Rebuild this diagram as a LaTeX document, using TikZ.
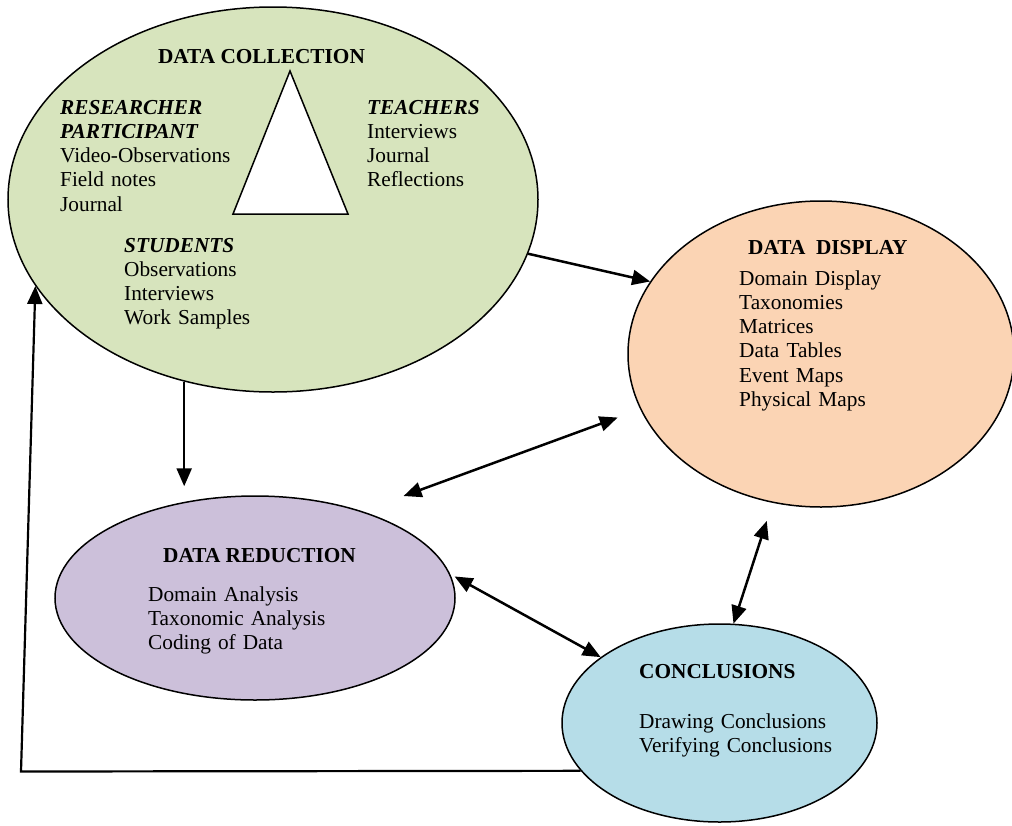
\documentclass[tikz,border=0pt]{standalone}
\usepackage{fontspec}
\setmainfont{Liberation Serif}
\usetikzlibrary{shapes.geometric,arrows.meta}
\definecolor{collectfill}{HTML}{D7E4BD}
\definecolor{displayfill}{HTML}{FBD4B4}
\definecolor{reducefill}{HTML}{CCC0DA}
\definecolor{concludefill}{HTML}{B6DDE8}
\begin{document}
\begin{tikzpicture}[x=1pt, y=-1pt, inner sep=0pt,
    font=\fontsize{21.3pt}{24.3pt}\selectfont,
    phase/.style={ellipse, draw, line width=1.5pt},
    txt/.style={anchor=base west, align=left, text width=300pt},
    head/.style={anchor=base west, font=\fontsize{21.3pt}{24.3pt}\selectfont\bfseries},
    flow/.style={-{Triangle[length=18pt,width=15pt]}, line width=2.5pt},
    both/.style={{Triangle[length=18pt,width=15pt]}-{Triangle[length=18pt,width=15pt]}, line width=2.5pt}]
   \useasboundingbox (0,0) rectangle (1012,825);
   % the four phases
   \node[phase, fill=collectfill, minimum width=530pt, minimum height=385pt] (collect) at (273,199.5) {};
   \node[phase, fill=displayfill, minimum width=386pt, minimum height=306pt] (display) at (821,354) {};
   \node[phase, fill=reducefill, minimum width=400pt, minimum height=204pt] (reduce) at (255,598) {};
   \node[phase, fill=concludefill, minimum width=315pt, minimum height=198pt] (conclude) at (719.5,723) {};
   \draw[line width=1.5pt, fill=white] (290,71) -- (233,214) -- (348,214) -- cycle;
   % data collection
   \node[head, anchor=base] (collecttitle) at (261.5,63) {DATA COLLECTION};
   \node[txt] (researcher) at (60,114) {\textbf{\textit{RESEARCHER}}\\ \textbf{\textit{PARTICIPANT}}\\ Video-Observations\\ Field notes\\ Journal};
   \node[txt] (teachers) at (367,114) {\textbf{\textit{TEACHERS}}\\ Interviews\\ Journal\\ Reflections};
   \node[txt] (students) at (124,252) {\textbf{\textit{STUDENTS}}\\ Observations\\ Interviews\\ Work Samples};
   % data display
   \node[head] (displaytitle) at (748,254) {DATA\ \ DISPLAY};
   \node[txt] (displayitems) at (739,285) {Domain Display\\ Taxonomies\\ Matrices\\ Data Tables\\ Event Maps\\ Physical Maps};
   % data reduction
   \node[head] (reducetitle) at (163,562) {DATA REDUCTION};
   \node[txt] (reduceitems) at (148,601) {Domain Analysis\\ Taxonomic Analysis\\ Coding of Data};
   % conclusions
   \node[head] (concludetitle) at (639,678) {CONCLUSIONS};
   \node[txt] (concludeitems) at (639,728) {Drawing Conclusions\\ Verifying Conclusions};
   % connectors
   \coordinate (loopcorner) at (21,771.5);
   \draw[flow] (collect.-12.7) -- (display.157.2);
   \draw[flow, shorten >=9pt] (collect.-116.4) -- (collect.-116.4 |- reduce.north);
   \draw[both, shorten <=44pt, shorten >=24pt] (reduce.39) -- (display.197.6);
   \draw[both, shorten <=5pt] (reduce.7.3) -- (conclude.151.8);
   \draw[both, shorten >=19pt] (conclude.82.8) -- (display.252.1);
   \draw[flow, line width=2.2pt] (conclude.199.2) -- (loopcorner) -- (collect.200.1);
\end{tikzpicture}
\end{document}
